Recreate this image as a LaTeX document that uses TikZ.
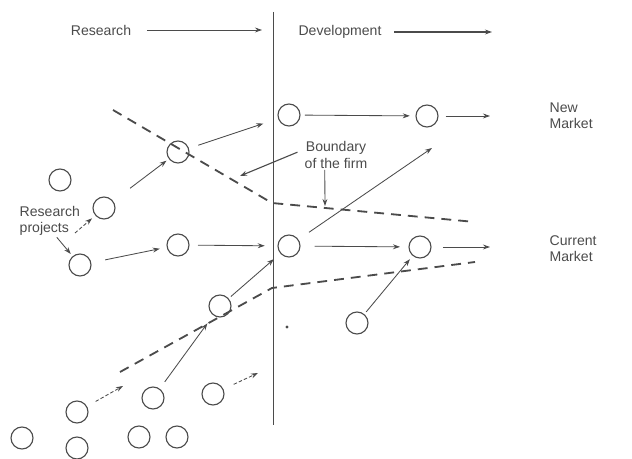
\documentclass[tikz,border=0pt]{standalone}
\usepackage{fontspec}
\setmainfont{Liberation Sans}
\usepackage{tikz}
\usetikzlibrary{arrows.meta}
\definecolor{ink}{RGB}{75,75,75}

\begin{document}
\begin{tikzpicture}[x=0.025cm,y=-0.025cm,>={Stealth[length=5pt,width=3.5pt]},
  proj/.style={circle,draw=ink,line width=0.8pt,minimum size=0.55cm,inner sep=0pt},
  link/.style={->,ink,line width=0.6pt},
  dlink/.style={link,dash pattern=on 2.5pt off 1.5pt},
  bnd/.style={ink,line width=1.3pt,dash pattern=on 7pt off 5pt},
  lbl/.style={font=\fontsize{10}{11.5}\selectfont,text=ink,align=left,inner sep=1pt}]
  \useasboundingbox (0,0) rectangle (632,459);

  % the line between research and development
  \draw[ink,line width=0.7pt] (273,12) -- (273,425);

  % headings
  \node[lbl] (res) at (101,30) {Research};
  \node[lbl] (dev) at (340,32) {Development};
  \coordinate (rese) at (262,30);
  \coordinate (deve) at (492,32);
  \draw[link,shorten <=10pt] (res) -- (rese);
  \draw[link,line width=1.4pt,shorten <=8pt] (dev) -- (deve);

  \node[lbl,anchor=west] (nm) at (548,116) {New\\Market};
  \node[lbl,anchor=west] (cm) at (548,249) {Current\\Market};

  % boundary of the firm
  \draw[bnd] (113,110) -- (272,203) -- (475,222);
  \draw[bnd] (120,372) -- (272,288) -- (475,262);

  % projects
  \node[proj] (n1) at (289,115) {};
  \node[proj] (n2) at (427,116) {};
  \node[proj] (p) at (178,152) {};
  \node[proj] (l) at (60,180) {};
  \node[proj] (q) at (104,208) {};
  \node[proj] (r) at (80,265) {};
  \node[proj] (s) at (178,245) {};
  \node[proj] (c1) at (289,246) {};
  \node[proj] (c2) at (420,247) {};
  \node[proj] (t) at (220,306) {};
  \node[proj] (x) at (357,323) {};
  \node[proj] (v) at (77,412) {};
  \node[proj] (u) at (153,398) {};
  \node[proj] (w) at (213,394) {};
  \node[proj] (b1) at (22,438) {};
  \node[proj] (b2) at (77,448) {};
  \node[proj] (b3) at (139,437) {};
  \node[proj] (b4) at (177,437) {};
  \fill[ink] (287,327) circle (1.2pt);

  \coordinate (n2e) at (490,116);
  \coordinate (c2e) at (490,247);
  \coordinate (c1e) at (432,148);
  \coordinate (ve) at (123,386);
  \coordinate (we) at (258,373);

  \draw[link,shorten <=3pt,shorten >=4pt] (n1) -- (n2);
  \draw[link,shorten <=5pt] (n2) -- (n2e);
  \draw[link,shorten <=7pt,shorten >=11pt] (p) -- (n1);
  \draw[link,shorten <=15pt,shorten >=2pt] (q) -- (p);
  \draw[link,shorten <=10pt,shorten >=5pt] (r) -- (s);
  \draw[link,shorten <=6pt,shorten >=9pt] (s) -- (c1);
  \draw[link,shorten <=10pt,shorten >=6pt] (c1) -- (c2);
  \draw[link,shorten <=8pt] (c2) -- (c2e);
  \draw[link,shorten <=9pt] (c1) -- (c1e);
  \draw[link,shorten <=2pt,shorten >=6pt] (t) -- (c1);
  \draw[link,shorten <=6pt,shorten >=7pt] (u) -- (t);
  \draw[link,shorten <=2pt,shorten >=3pt] (x) -- (c2);
  \draw[dlink,shorten <=7pt] (v) -- (ve);
  \draw[dlink,shorten <=8pt] (w) -- (we);

  % labels with pointers
  \node[lbl,anchor=west] (rp) at (18,221) {Research\\projects};
  \coordinate (rpe) at (75,233);
  \draw[dlink,shorten >=3pt] (rpe) -- (q);
  \draw[link,shorten >=2pt] ([xshift=5pt]rp.south) -- (r);

  \node[lbl,align=center] (bl) at (336,155) {Boundary\\of the firm};
  \coordinate (bla) at (240,176);
  \coordinate (blb) at (325,206);
  \draw[link,line width=0.8pt] ([xshift=-4pt,yshift=2pt]bl.west) -- (bla);
  \draw[link] ([xshift=-8pt]bl.south) -- (blb);
\end{tikzpicture}
\end{document}
